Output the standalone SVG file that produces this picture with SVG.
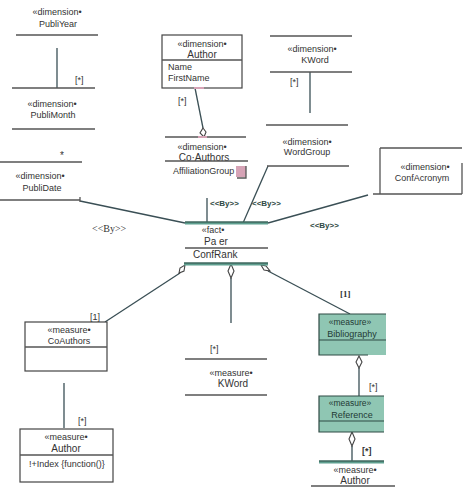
<svg xmlns="http://www.w3.org/2000/svg" width="466" height="499" viewBox="0 0 466 499">
<style>
text{font-family:"Liberation Sans",Arial,sans-serif;font-size:9px;fill:#333;}
.c{text-anchor:middle;}
.n{font-size:10px;}
.ln{stroke:#555;stroke-width:1.3;fill:none;}
.box{stroke:#444;stroke-width:1.2;fill:#fff;}
.teal{stroke:#3d5c55;stroke-width:1.2;fill:#8fc6b3;}
.tl{stroke:#5e9f8f;stroke-width:3;fill:none;}
.tld{stroke:#2f4a44;stroke-width:1;fill:none;}
.conn{stroke:#3a4f55;stroke-width:1.3;fill:none;}
.dia{stroke:#444;stroke-width:1.1;fill:#fff;}
.by{font-size:9px;fill:#333;}
.pink{fill:#d6a3b6;}
</style>
<rect width="466" height="499" fill="#fff"/>
<g id="connectors">
  <line class="conn" x1="57" y1="48" x2="57" y2="88"/>
  <line class="conn" x1="310" y1="72" x2="310" y2="113"/>
  <line class="conn" x1="195" y1="88" x2="203" y2="128"/>
  <polygon class="dia" points="203,128 206,132 204,137 200,133"/>
  <line class="conn" x1="80" y1="201" x2="185" y2="223"/>
  <line class="conn" x1="207" y1="198" x2="207" y2="223"/>
  <line class="conn" x1="268" y1="166" x2="243" y2="223"/>
  <line class="conn" x1="368" y1="195" x2="268" y2="223"/>
  <line class="conn" x1="180" y1="273" x2="105" y2="322"/>
  <polygon class="dia" points="185,265 184,271 179,273 180,268"/>
  <line class="conn" x1="231" y1="278" x2="231" y2="323"/>
  <polygon class="dia" points="231,264 234,271 231,278 228,271"/>
  <line class="conn" x1="268" y1="271" x2="350" y2="314"/>
  <polygon class="dia" points="261,265 266,266 270,271 264,270"/>
  <line class="conn" x1="64" y1="383" x2="64" y2="428"/>
  <line class="conn" x1="359" y1="368" x2="359" y2="396"/>
  <polygon class="dia" points="359,356 362,362 359,368 356,362"/>
  <line class="conn" x1="352" y1="446" x2="352" y2="461"/>
  <polygon class="dia" points="352,432 355,439 352,446 349,439"/>
  <text x="75" y="83">[*]</text>
  <text x="60" y="159" class="n">*</text>
  <text x="178" y="104">[*]</text>
  <text x="290" y="85">[*]</text>
  <text x="92" y="232" style="font-family:'Liberation Serif',serif;font-size:10px">&lt;&lt;By&gt;&gt;</text>
  <text x="210" y="206" style="font-weight:bold;font-size:8px;fill:#2f4a44">&lt;&lt;By&gt;&gt;</text>
  <text x="252" y="206" style="font-weight:bold;font-size:8px;fill:#2f4a44">&lt;&lt;By&gt;&gt;</text>
  <text x="310" y="228" style="font-weight:bold;font-size:8px;fill:#2f4a44">&lt;&lt;By&gt;&gt;</text>
  <text x="340" y="297" style="font-family:'Liberation Serif',serif;font-weight:bold">[1]</text>
  <text x="90" y="320">[1]</text>
  <text x="78" y="424">[*]</text>
  <text x="210" y="352">[*]</text>
  <text x="369" y="390">[*]</text>
  <text x="362" y="454" style="font-weight:bold">[*]</text>
</g>
<g id="PubliYear">
  <text x="57" y="15" class="c">«dimension•</text>
  <text x="58" y="27" class="c">PubliYear</text>
  <line class="ln" x1="16" y1="35" x2="98" y2="35"/>
</g>
<g id="PubliMonth">
  <line class="ln" x1="12" y1="88" x2="95" y2="88"/>
  <text x="52" y="107" class="c">«dimension•</text>
  <text x="53" y="118" class="c">PubliMonth</text>
  <line class="ln" x1="12" y1="129" x2="95" y2="129"/>
</g>
<g id="PubliDate">
  <line class="ln" x1="0" y1="162" x2="82" y2="162"/>
  <text x="40" y="179" class="c">«dimension•</text>
  <text x="42" y="191" class="c">PubliDate</text>
  <line class="ln" x1="0" y1="200" x2="80" y2="200"/>
  <line class="ln" x1="80" y1="197" x2="80" y2="202"/>
</g>
<g id="Author">
  <rect class="box" x="162" y="35" width="80" height="53"/>
  <line class="ln" x1="162" y1="60" x2="242" y2="60"/>
  <text x="202" y="47" class="c">«dimension•</text>
  <text x="202" y="58" class="c n">Author</text>
  <text x="168" y="70">Name</text>
  <text x="168" y="81">FirstName</text>
  <rect class="pink" x="194" y="87" width="10" height="2"/>
</g>
<g id="CoAuthorsDim">
  <line class="ln" x1="165" y1="137" x2="246" y2="137"/>
  <rect class="pink" x="198" y="136" width="9" height="2"/>
  <text x="202" y="150" class="c">«dimension•</text>
  <text x="204" y="161" class="c n">Co·Authors</text>
  <line class="ln" x1="165" y1="161" x2="248" y2="161"/>
  <text x="173" y="174">AffiliationGroup</text>
  <rect class="pink" x="236" y="166" width="10" height="11"/>
  <path class="ln" d="M246,166 V178 H237"/>
</g>
<g id="KWordDim">
  <line class="ln" x1="270" y1="36" x2="352" y2="36"/>
  <text x="312" y="52" class="c">«dimension•</text>
  <text x="315" y="63" class="c">KWord</text>
  <line class="ln" x1="270" y1="72" x2="352" y2="72"/>
</g>
<g id="WordGroup">
  <line class="ln" x1="266" y1="125" x2="348" y2="125"/>
  <text x="307" y="145" class="c">«dimension•</text>
  <text x="307" y="155" class="c">WordGroup</text>
  <line class="ln" x1="267" y1="166" x2="349" y2="166"/>
</g>
<g id="ConfAcronym">
  <path class="ln" d="M380,148 H462 M380,148 V194 M462,163 V194 M373,194 H462"/>
  <text x="425" y="170" class="c">«dimension•</text>
  <text x="422" y="181" class="c">ConfAcronym</text>
</g>
<g id="Paper">
  <line class="tl" x1="185" y1="223" x2="268" y2="223"/>
  <line class="tld" x1="185" y1="222" x2="268" y2="222"/>
  <text x="213" y="233" class="c">«fact•</text>
  <text x="216" y="245" class="c n">Pa er</text>
  <line class="ln" x1="185" y1="248" x2="268" y2="248"/>
  <text x="193" y="258" class="n">ConfRank</text>
  <line class="tl" x1="184" y1="264" x2="268" y2="264"/>
  <line class="tld" x1="184" y1="263" x2="268" y2="263"/>
</g>
<g id="CoAuthorsMeasure">
  <rect class="box" x="25" y="322" width="82" height="49"/>
  <line class="ln" x1="25" y1="347" x2="107" y2="347"/>
  <text x="69" y="333" class="c">«measure•</text>
  <text x="69" y="344" class="c">CoAuthors</text>
</g>
<g id="AuthorMeasure">
  <rect class="box" x="20" y="429" width="93" height="53"/>
  <line class="ln" x1="20" y1="455" x2="113" y2="455"/>
  <text x="66" y="440" class="c">«measure•</text>
  <text x="66" y="452" class="c n">Author</text>
  <text x="29" y="467">!+Index {function()}</text>
</g>
<g id="KWordMeasure">
  <line class="ln" x1="185" y1="359" x2="267" y2="359"/>
  <text x="231" y="376" class="c">«measure•</text>
  <text x="233" y="387" class="c n">KWord</text>
  <line class="ln" x1="185" y1="395" x2="267" y2="395"/>
</g>
<g id="Bibliography">
  <rect x="319" y="314" width="67" height="41" fill="#8fc6b3"/>
  <path class="tld" d="M386,314 H319 V355 H368 M319,340 H386" style="stroke-width:1.2"/>
  <text x="350" y="325" class="c" style="fill:#1f3a34;font-size:8.5px">«measure»</text>
  <text x="352" y="337" class="c" style="fill:#1f3a34">Bibliography</text>
</g>
<g id="Reference">
  <rect x="319" y="396" width="65" height="36" fill="#8fc6b3"/>
  <path class="tld" d="M384,396 H319 V432 H384 M319,421 H384" style="stroke-width:1.2"/>
  <text x="350" y="406" class="c" style="fill:#1f3a34;font-size:8.5px">«measure»</text>
  <text x="352" y="418" class="c" style="fill:#1f3a34">Reference</text>
</g>
<g id="AuthorMeasure2">
  <line class="tl" x1="319" y1="462" x2="384" y2="462"/>
  <line class="tld" x1="319" y1="461" x2="384" y2="461"/>
  <text x="355" y="473" class="c">«measure•</text>
  <text x="355" y="484" class="c n">Author</text>
  <line class="ln" x1="311" y1="486" x2="395" y2="486"/>
</g>
</svg>
